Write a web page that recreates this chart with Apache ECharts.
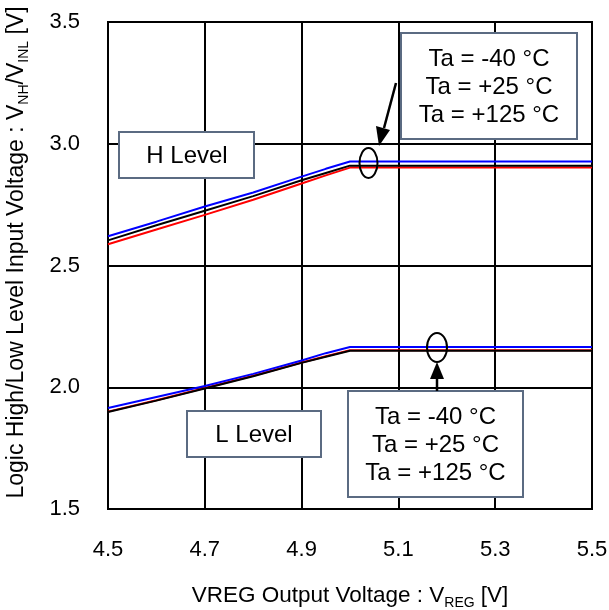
<!DOCTYPE html>
<html>
<head>
<meta charset="utf-8">
<script src="https://cdn.jsdelivr.net/npm/echarts@6/dist/echarts.min.js"></script>
<style>
html,body{margin:0;padding:0;background:#fff;}
#c{width:609px;height:610px;}
</style>
</head>
<body>
<div id="c"></div>
<script>
var xTicks = [4.5, 4.7, 4.9, 5.1, 5.3, 5.5];
var yTicks = [1.5, 2.0, 2.5, 3.0, 3.5];
var vreg = [4.5, 4.6, 4.7, 4.8, 4.9, 4.95, 5.0, 5.1, 5.3, 5.5];

var hBlue  = [2.620, 2.680, 2.742, 2.800, 2.865, 2.897, 2.927, 2.927, 2.927, 2.927];
var hBlack = [2.603, 2.665, 2.725, 2.785, 2.850, 2.880, 2.910, 2.910, 2.910, 2.910];
var hRed   = [2.587, 2.648, 2.708, 2.770, 2.837, 2.870, 2.902, 2.902, 2.902, 2.902];

var lBlue  = [1.915, 1.960, 2.005, 2.055, 2.110, 2.140, 2.165, 2.165, 2.165, 2.165];
var lBlack = [1.898, 1.945, 1.995, 2.045, 2.100, 2.125, 2.150, 2.150, 2.150, 2.150];
var lRed   = [1.900, 1.947, 1.997, 2.047, 2.102, 2.127, 2.152, 2.152, 2.152, 2.152];

var tempLabels = ['Ta = -40 °C', 'Ta = +25 °C', 'Ta = +125 °C'];

function pairs(ys){ return vreg.map(function(x,i){ return [x, ys[i]]; }); }

var FONT = 'Liberation Sans, Arial, sans-serif';
var FS = 22;
var TS = 23;
var chart = echarts.init(document.getElementById('c'));

function line(name, ys, color){
  return {
    name: name, type: 'line', data: pairs(ys), symbol: 'none', silent: true,
    lineStyle: {color: color, width: 2}, z: 3
  };
}

var boxStroke = '#5b6b82';
function richT(size){
  return {
    n: {fontSize: size, fontFamily: FONT, color: '#000', lineHeight: 26, verticalAlign: 'bottom'},
    s: {fontSize: 14, fontFamily: FONT, color: '#000', lineHeight: 18, verticalAlign: 'bottom', padding: [0,0,-3,0]}
  };
}
chart.setOption({
  animation: false,
  backgroundColor: '#fff',
  grid: {left: 108, right: 17, top: 22, bottom: 101, show: true, borderColor: '#000', borderWidth: 2,
    containLabel: false, outerBoundsMode: 'none'},
  xAxis: {
    type: 'value', min: 4.5, max: 5.5, interval: 0.2,
    axisLine: {show: true, lineStyle: {color: '#000', width: 2}},
    axisTick: {show: false},
    splitLine: {show: true, lineStyle: {color: '#000', width: 2}},
    axisLabel: {color: '#000', fontSize: FS, fontFamily: FONT, margin: 30,
      formatter: function(v){ return v.toFixed(1); }},
    name: '{n|VREG Output Voltage : V}{s|REG}{n| [V]}',
    nameLocation: 'middle', nameGap: 72,
    nameTextStyle: {color: '#000', fontFamily: FONT, rich: richT(22.5)}
  },
  yAxis: {
    type: 'value', min: 1.5, max: 3.5, interval: 0.5,
    axisLine: {show: true, lineStyle: {color: '#000', width: 2}},
    axisTick: {show: false},
    splitLine: {show: true, lineStyle: {color: '#000', width: 2}},
    axisLabel: {color: '#000', fontSize: FS, fontFamily: FONT, margin: 28,
      formatter: function(v){ return v.toFixed(1); }},
    name: '{n|Logic High/Low Level Input Voltage : V}{s|NH}{n|/V}{s|INL}{n| [V]}',
    nameLocation: 'middle', nameGap: 80, nameRotate: 90,
    nameTextStyle: {color: '#000', fontFamily: FONT, rich: richT(TS), padding: [0, 0, 0, 26]}
  },
  series: [
    line('H +125', hRed, '#ff0000'),
    line('H +25', hBlack, '#000000'),
    line('H -40', hBlue, '#0000ff'),
    line('L +125', lRed, '#ff0000'),
    line('L +25', lBlack, '#000000'),
    line('L -40', lBlue, '#0000ff')
  ],
  graphic: [
    {type: 'rect', shape: {x: 119, y: 132, width: 135, height: 46}, style: {fill: '#fff', stroke: boxStroke, lineWidth: 2}, z: 10},
    {type: 'text', x: 187, y: 156, style: {text: 'H Level', fontSize: 24, fontFamily: FONT, fill: '#000', align: 'center', verticalAlign: 'middle'}, z: 11},
    {type: 'rect', shape: {x: 187, y: 411, width: 134, height: 46}, style: {fill: '#fff', stroke: boxStroke, lineWidth: 2}, z: 10},
    {type: 'text', x: 254, y: 435, style: {text: 'L Level', fontSize: 24, fontFamily: FONT, fill: '#000', align: 'center', verticalAlign: 'middle'}, z: 11},
    {type: 'rect', shape: {x: 401, y: 33, width: 176, height: 106}, style: {fill: '#fff', stroke: boxStroke, lineWidth: 2}, z: 10},
    {type: 'text', x: 489, y: 87, style: {text: tempLabels.join('\n'), fontSize: 24, lineHeight: 28, fontFamily: FONT, fill: '#000', align: 'center', verticalAlign: 'middle'}, z: 11},
    {type: 'rect', shape: {x: 348, y: 391, width: 175, height: 106}, style: {fill: '#fff', stroke: boxStroke, lineWidth: 2}, z: 10},
    {type: 'text', x: 435.5, y: 445, style: {text: tempLabels.join('\n'), fontSize: 24, lineHeight: 28, fontFamily: FONT, fill: '#000', align: 'center', verticalAlign: 'middle'}, z: 11},
    {type: 'ellipse', shape: {cx: 368.5, cy: 163, rx: 9, ry: 15}, style: {fill: 'none', stroke: '#000', lineWidth: 2}, z: 12},
    {type: 'ellipse', shape: {cx: 437, cy: 347.5, rx: 10, ry: 14.5}, style: {fill: 'none', stroke: '#000', lineWidth: 2}, z: 12},
    {type: 'line', shape: {x1: 396, y1: 83, x2: 384, y2: 128}, style: {stroke: '#000', lineWidth: 2.5}, z: 12},
    {type: 'polygon', shape: {points: [[379, 146], [376, 126], [390, 130]]}, style: {fill: '#000'}, z: 12},
    {type: 'line', shape: {x1: 437, y1: 391, x2: 437, y2: 378}, style: {stroke: '#000', lineWidth: 2.5}, z: 12},
    {type: 'polygon', shape: {points: [[437, 362], [430, 379], [444, 379]]}, style: {fill: '#000'}, z: 12}
  ]
});
</script>
</body>
</html>
